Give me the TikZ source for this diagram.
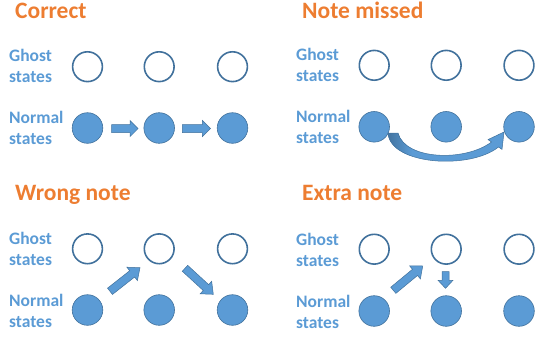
\documentclass[tikz,border=0pt]{standalone}
\usepackage{fontspec}
\setmainfont{Carlito}
\usetikzlibrary{calc}
\definecolor{tblue}{HTML}{5B9BD5}
\definecolor{tdark}{HTML}{41719C}
\definecolor{torange}{HTML}{ED7D31}
\definecolor{tlabel}{HTML}{5B9BD5}
\tikzset{
  ghost/.style={circle, draw=tdark, line width=1.6pt, fill=white, minimum size=29.8pt, inner sep=0pt},
  normal/.style={circle, draw=tdark, line width=0.6pt, fill=tblue, minimum size=30.6pt, inner sep=0pt},
  ttl/.style={text=torange, font=\bfseries\fontsize{23.5}{28}\selectfont, inner sep=0pt, anchor=base west},
  lbl/.style={text=tlabel, font=\bfseries\fontsize{17.5}{21}\selectfont, inner sep=0pt, anchor=base west},
  barrow/.style={fill=tblue, draw=tdark, line width=0.5pt, line join=miter},
}
\newcommand\blockarrow[5]{%
  \coordinate (#1-h) at ($(#2)!#5!(#1)$);
  \path[barrow] ($(#1)!#3!90:(#2)$) -- ($(#1-h)!#3!90:(#2)$) -- ($(#1-h)!#4!90:(#2)$) -- (#2)
    -- ($(#1-h)!#4!-90:(#2)$) -- ($(#1-h)!#3!-90:(#2)$) -- ($(#1)!#3!-90:(#2)$) -- cycle;
}
\begin{document}
\begin{tikzpicture}[x=1pt, y=-1pt]
\useasboundingbox (0,0) rectangle (535,340);
% titles
\node[ttl] (t1) at (15,18.5) {Correct};
\node[ttl] (t2) at (302,18.5) {Note missed};
\node[ttl] (t3) at (15,200.7) {Wrong note};
\node[ttl] (t4) at (302,200.8) {Extra note};
% labels
\node[lbl] (l1a) at (9,61.7) {Ghost};
\node[lbl] (l1b) at (9,82.7) {states};
\node[lbl] (l1c) at (9,123.3) {Normal};
\node[lbl] (l1d) at (9,144.3) {states};
\node[lbl] (l2a) at (296,60.5) {Ghost};
\node[lbl] (l2b) at (296,81.5) {states};
\node[lbl] (l2c) at (296,122.3) {Normal};
\node[lbl] (l2d) at (296,143.3) {states};
\node[lbl] (l3a) at (9,244.5) {Ghost};
\node[lbl] (l3b) at (9,265.5) {states};
\node[lbl] (l3c) at (9,306.5) {Normal};
\node[lbl] (l3d) at (9,327.5) {states};
\node[lbl] (l4a) at (296,245) {Ghost};
\node[lbl] (l4b) at (296,266) {states};
\node[lbl] (l4c) at (296,307) {Normal};
\node[lbl] (l4d) at (296,328) {states};
% circles
\foreach \p/\xa/\xb/\xc/\yg/\yn in {1/87.5/159.2/232.5/66.7/128, 2/374.2/446.2/519/65.3/126.8, 3/87.5/159.2/232.5/248.8/310, 4/374.2/446.2/519/249.2/311}{
  \node[ghost] (g\p a) at (\xa,\yg) {};
  \node[ghost] (g\p b) at (\xb,\yg) {};
  \node[ghost] (g\p c) at (\xc,\yg) {};
  \node[normal] (n\p a) at (\xa,\yn) {};
  \node[normal] (n\p b) at (\xb,\yn) {};
  \node[normal] (n\p c) at (\xc,\yn) {};
}
% Correct: horizontal arrows
\coordinate (c1t) at ($(n1a.east)+(8.5,0.5)$);
\coordinate (c1h) at ($(n1b.west)+(-5.5,0.5)$);
\coordinate (c2t) at ($(n1b.east)+(7.5,0.5)$);
\coordinate (c2h) at ($(n1c.west)+(-6.5,0.5)$);
\blockarrow{c1t}{c1h}{4pt}{8pt}{8pt}
\blockarrow{c2t}{c2h}{4pt}{8pt}{8pt}
% Wrong note: diagonal arrows
\coordinate (w1t) at (110,291.3);
\coordinate (w1h) at (140,267.7);
\coordinate (w2t) at (185,268.3);
\coordinate (w2h) at (213.3,294.3);
\blockarrow{w1t}{w1h}{4pt}{8.5pt}{10pt}
\blockarrow{w2t}{w2h}{4pt}{8.5pt}{10pt}
% Extra note
\coordinate (e1t) at (393.3,290.3);
\coordinate (e1h) at (422.7,266);
\coordinate (e2t) at (445.5,271.7);
\coordinate (e2h) at (445.5,288.3);
\blockarrow{e1t}{e1h}{4pt}{8.5pt}{10pt}
\blockarrow{e2t}{e2h}{3.5pt}{7.5pt}{8pt}
% Note missed: curved arrow
\def\curvedpath{(388,133) .. controls (390,165) and (470,170) .. (498.5,147) -- (502,149.4) -- (504,132) -- (488,139.6) -- (491.5,142) .. controls (465,162) and (405,160) .. (398,133) -- cycle}
\begin{scope}
  \clip \curvedpath;
  \fill[tblue] (380,120) rectangle (520,175);
  \shade[left color=tdark, right color=tblue] (386,125) rectangle (412,165);
\end{scope}
\draw[tdark, line width=0.5pt, line join=miter] \curvedpath;
\end{tikzpicture}
\end{document}
